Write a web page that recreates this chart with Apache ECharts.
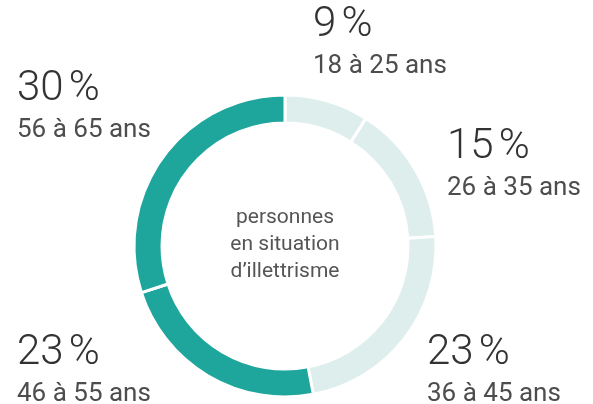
<!DOCTYPE html>
<html>
<head>
<meta charset="utf-8">
<script src="https://cdn.jsdelivr.net/npm/echarts@6/dist/echarts.min.js"></script>
<style>
  html, body { margin: 0; padding: 0; background: #fff; }
  #chart { width: 593px; height: 404px; }
</style>
</head>
<body>
<div id="chart"></div>
<script>
// data
var ageGroups = ['18 à 25 ans', '26 à 35 ans', '36 à 45 ans', '46 à 55 ans', '56 à 65 ans'];
var shares = [9, 15, 23, 23, 30];
var centerText = ['personnes', 'en situation', 'd\u2019illettrisme'];

// styling
var sliceColors = ['#deeeed', '#deeeed', '#deeeed', '#1fa69c', '#1fa69c'];
var labelSpots = [
    [313, -1],
    [447, 121],
    [427, 327],
    [17, 327],
    [17, 63]
];

var chart = echarts.init(document.getElementById('chart'), null, { renderer: 'canvas' });

var pieData = [];
for (let i = 0, len = shares.length; i < len; i++) {
    pieData.push({
        name: ageGroups[i],
        value: shares[i],
        itemStyle: { color: sliceColors[i] }
    });
}

var option = {
    animation: false,
    textStyle: { fontFamily: 'Roboto' },
    graphic: [{
        type: 'text',
        x: 285,
        y: 245,
        style: {
            text: centerText.join('\n'),
            textAlign: 'center',
            textVerticalAlign: 'middle',
            fontFamily: 'Roboto',
            fontSize: 21,
            lineHeight: 27,
            fill: '#555555'
        }
    }],
    series: [{
        type: 'pie',
        center: [285, 246],
        radius: [123, 151],
        startAngle: 90,
        clockwise: true,
        silent: true,
        itemStyle: {
            borderColor: '#ffffff',
            borderWidth: 3
        },
        label: {
            show: true,
            position: 'outside',
            overflow: 'none',
            formatter: function (p) {
                return '{p|' + p.value + '\u202f%}\n{a|' + p.name + '}';
            },
            rich: {
                p: { fontFamily: 'Roboto', fontWeight: 300, fontSize: 42, lineHeight: 52, color: '#333333' },
                a: { fontFamily: 'Roboto', fontWeight: 400, fontSize: 26, lineHeight: 30, color: '#4d4d4d' }
            }
        },
        labelLine: { show: false },
        labelLayout: function (params) {
            var spot = labelSpots[params.dataIndex];
            return { x: spot[0], y: spot[1], align: 'left', verticalAlign: 'top' };
        },
        data: pieData
    }]
};
chart.setOption(option);
</script>
</body>
</html>
